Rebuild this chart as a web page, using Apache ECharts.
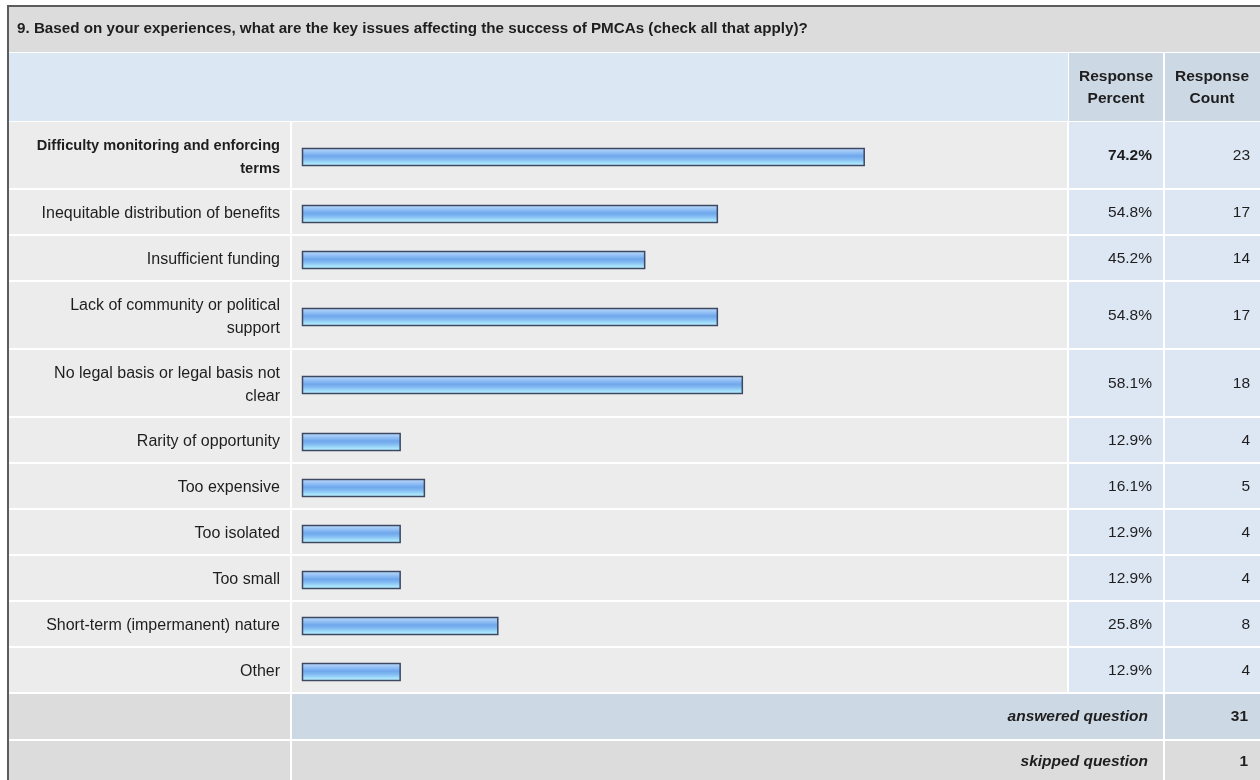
<!DOCTYPE html>
<html>
<head>
<meta charset="utf-8">
<script src="https://cdn.jsdelivr.net/npm/echarts@6/dist/echarts.min.js"></script>
<style>
  html, body { margin: 0; padding: 0; background: #fff; }
  #main { width: 1260px; height: 780px; }
</style>
</head>
<body>
<div id="main"></div>
<script>
const questionTitle = '9. Based on your experiences, what are the key issues affecting the success of PMCAs (check all that apply)?';
const answers = [
  'Difficulty monitoring and enforcing\nterms',
  'Inequitable distribution of benefits',
  'Insufficient funding',
  'Lack of community or political\nsupport',
  'No legal basis or legal basis not\nclear',
  'Rarity of opportunity',
  'Too expensive',
  'Too isolated',
  'Too small',
  'Short-term (impermanent) nature',
  'Other'
];
const percents = [74.2, 54.8, 45.2, 54.8, 58.1, 12.9, 16.1, 12.9, 12.9, 25.8, 12.9];
const counts = [23, 17, 14, 17, 18, 4, 5, 4, 4, 8, 4];
const answeredQuestion = 31;
const skippedQuestion = 1;

const FONT = '"Liberation Sans", Arial, sans-serif';
const TEXT = '#1e1e1e';
const LINE_H = 22;
const FS = '15.5px ';

// row extents (in px units of the y axis), taller rows for wrapped labels
let acc = 0;
const rows = answers.map(function (a, i) {
  const h = 24 + LINE_H * a.split('\n').length;
  const r = [i, acc, acc + h, percents[i], counts[i]];
  acc += h;
  return r;
});
const bodyH = acc;
const tableTop = 122;
const maxIdx = percents.indexOf(Math.max.apply(null, percents));

const barFill = new echarts.graphic.LinearGradient(0, 0, 0, 1, [
  { offset: 0, color: '#c4defb' },
  { offset: 0.2, color: '#9cc6f7' },
  { offset: 0.45, color: '#6fa7ec' },
  { offset: 0.6, color: '#7fb7f1' },
  { offset: 0.85, color: '#a8e4fc' },
  { offset: 1, color: '#c8f3ff' }
]);

function renderRow(params, api) {
  const i = api.value(0);
  const y0 = api.coord([0, api.value(1)])[1];
  const y1 = api.coord([0, api.value(2)])[1];
  const yc = (y0 + y1) / 2;
  const xs = api.coord([0, api.value(1)])[0];
  const xe = api.coord([api.value(3), api.value(1)])[0];
  const h = y1 - y0 - 2;
  const top = i === maxIdx;
  return {
    type: 'group',
    children: [
      { type: 'rect', shape: { x: 9, y: y0, width: 281, height: h }, style: { fill: '#ececec' } },
      { type: 'rect', shape: { x: 292, y: y0, width: 775, height: h }, style: { fill: '#ececec' } },
      { type: 'rect', shape: { x: 1069, y: y0, width: 94, height: h }, style: { fill: '#dde7f4' } },
      { type: 'rect', shape: { x: 1165, y: y0, width: 95, height: h }, style: { fill: '#dde7f4' } },
      {
        type: 'text',
        style: {
          text: answers[i], x: 280, y: yc + 1, align: 'right', verticalAlign: 'middle',
          font: (top ? 'bold 14.6px ' : '16px ') + FONT, lineHeight: 23, fill: TEXT
        }
      },
      {
        type: 'rect',
        shape: { x: xs + 0.5, y: Math.round(yc - 8) + 0.5, width: xe - xs, height: 17 },
        style: { fill: barFill, stroke: '#3d4862', lineWidth: 1.5 }
      },
      {
        type: 'text',
        style: {
          text: api.value(3).toFixed(1) + '%', x: 1152, y: yc, align: 'right', verticalAlign: 'middle',
          font: (top ? 'bold ' : '') + FS + FONT, fill: TEXT
        }
      },
      {
        type: 'text',
        style: {
          text: String(api.value(4)), x: 1250, y: yc, align: 'right', verticalAlign: 'middle',
          font: FS + FONT, fill: TEXT
        }
      }
    ]
  };
}

function txt(s, x, y, font, align) {
  return {
    type: 'text', z: 10,
    style: { text: s, x: x, y: y, align: align || 'left', verticalAlign: 'middle', font: font, lineHeight: LINE_H, fill: TEXT }
  };
}
function box(x, y, w, h, fill) {
  return { type: 'rect', z: 0, shape: { x: x, y: y, width: w, height: h }, style: { fill: fill } };
}

const footTop = tableTop + bodyH;

const chart = echarts.init(document.getElementById('main'), null, { renderer: 'canvas' });
chart.setOption({
  backgroundColor: '#fff',
  animation: false,
  grid: { left: 302, right: 201, top: tableTop, height: bodyH },
  xAxis: { type: 'value', min: 0, max: 100, show: false },
  yAxis: { type: 'value', min: 0, max: bodyH, inverse: true, show: false },
  graphic: [
    box(7, 5, 1253, 2, '#5c5c5c'),
    box(7, 5, 2, 775, '#5c5c5c'),
    box(9, 7, 1251, 45, '#dcdcdc'),
    txt(questionTitle, 17, 29, 'bold 15.2px ' + FONT),
    box(9, 53, 1059, 68, '#dce7f4'),
    box(1069, 53, 94, 68, '#cdd8e5'),
    box(1165, 53, 95, 68, '#cdd8e5'),
    txt('Response\nPercent', 1116, 88, 'bold ' + FS + FONT, 'center'),
    txt('Response\nCount', 1212, 88, 'bold ' + FS + FONT, 'center'),
    box(9, footTop, 281, 45, '#dcdcdc'),
    box(292, footTop, 871, 45, '#cdd8e5'),
    box(1165, footTop, 95, 45, '#cdd8e5'),
    txt('answered question', 1148, footTop + 23, 'italic bold ' + FS + FONT, 'right'),
    txt(String(answeredQuestion), 1248, footTop + 23, 'bold ' + FS + FONT, 'right'),
    box(9, footTop + 47, 281, 40, '#dcdcdc'),
    box(292, footTop + 47, 871, 40, '#dcdcdc'),
    box(1165, footTop + 47, 95, 40, '#dcdcdc'),
    txt('skipped question', 1148, footTop + 68, 'italic bold ' + FS + FONT, 'right'),
    txt(String(skippedQuestion), 1248, footTop + 68, 'bold ' + FS + FONT, 'right')
  ],
  series: [{
    type: 'custom',
    renderItem: renderRow,
    clip: false,
    silent: true,
    encode: { x: 3, y: [1, 2] },
    data: rows
  }]
});
</script>
</body>
</html>
